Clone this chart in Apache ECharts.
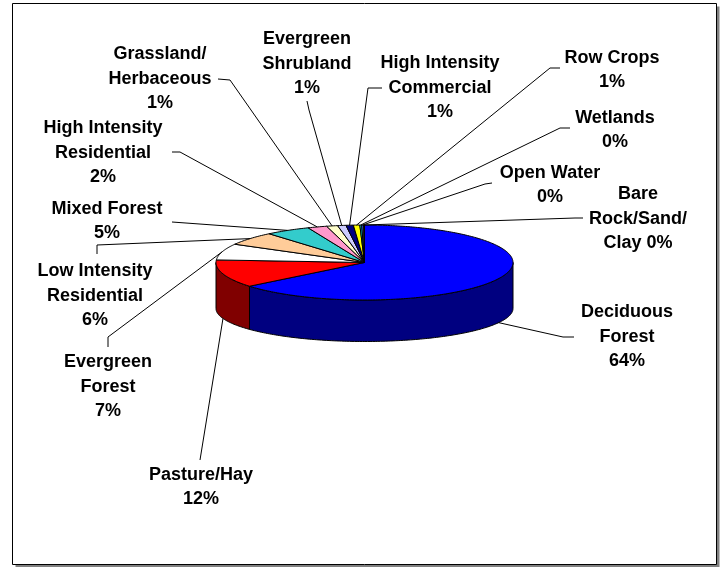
<!DOCTYPE html>
<html>
<head>
<meta charset="utf-8">
<script src="https://cdn.jsdelivr.net/npm/echarts@6/dist/echarts.min.js"></script>
<style>
html, body { margin: 0; padding: 0; background: #fff; }
#main { width: 725px; height: 567px; }
</style>
</head>
<body>
<div id="main"></div>
<script>
// land cover shares, clockwise from 12 o'clock
var categories = ['Deciduous Forest', 'Pasture/Hay', 'Evergreen Forest', 'Low Intensity Residential', 'Mixed Forest',
    'High Intensity Residential', 'Grassland/Herbaceous', 'Evergreen Shrubland', 'High Intensity Commercial',
    'Row Crops', 'Wetlands', 'Open Water', 'Bare Rock/Sand/Clay'];
var values = [64.1, 12.0, 7.0, 5.8, 4.9, 2.1, 1.2, 0.9, 0.8, 0.7, 0.2, 0.2, 0.1];
// label text as it wraps in the picture, {p} = percent
var labelNames = ['Deciduous\nForest\n{p}', 'Pasture/Hay\n{p}', 'Evergreen\nForest\n{p}', 'Low Intensity\nResidential\n{p}',
    'Mixed Forest\n{p}', 'High Intensity\nResidential\n{p}', 'Grassland/\nHerbaceous\n{p}', 'Evergreen\nShrubland\n{p}',
    'High Intensity\nCommercial\n{p}', 'Row Crops\n{p}', 'Wetlands\n{p}', 'Open Water\n{p}', 'Bare\nRock/Sand/\nClay {p}'];

var colors = ['#0000ff', '#ff0000', '#ffffff', '#ffcc99', '#33cccc', '#ff99cc', '#ffffcc', '#ccccff', '#000080',
    '#ffff00', '#00ffff', '#3366ff', '#c0c0c0'];

// label placement (text centre, leader start, leader elbow)
var labelCenter = [[627, 337], [201, 487], [108, 387], [95, 296], [107, 221], [103, 153], [160, 79], [307, 64],
    [440, 88], [612, 70], [615, 130], [550, 185], [638, 219]];
var leaderStart = [[574, 337], [200, 460], [108, 347], [97, 254], [172, 222], [172, 152], [218, 79], [307, 101],
    [382, 88], [560, 68], [570, 128], [492, 183], [583, 218]];
var leaderElbow = [[563, 337], [200, 460], [108, 337], [97, 245], [172, 222], [180, 152], [230, 80], [309, 110],
    [368, 88], [550, 68], [560, 128], [485, 184], [575, 218]];

// pie shape
var CX = 364.5, CY = 262.5, RX = 148.5, RY = 37.5, DEPTH = 46, RYB = 33;

var total = 0;
values.forEach(function (v) { total += v; });
var startAngle = [];
var acc = 0;
values.forEach(function (v) { startAngle.push(acc / total * 360); acc += v; });

function darker(c) {
    var r = parseInt(c.substr(1, 2), 16), g = parseInt(c.substr(3, 2), 16), b = parseInt(c.substr(5, 2), 16);
    return 'rgb(' + Math.round(r / 2) + ',' + Math.round(g / 2) + ',' + Math.round(b / 2) + ')';
}
function pt(t, top) {
    var a = t * Math.PI / 180;
    if (top) return [CX + RX * Math.sin(a), CY - RY * Math.cos(a)];
    return [CX + RX * Math.sin(a), CY + DEPTH - RYB * Math.cos(a)];
}
function arc(t0, t1, top) {
    var pts = [];
    var n = Math.max(1, Math.ceil((t1 - t0) / 1));
    for (var k = 0; k <= n; k++) pts.push(pt(t0 + (t1 - t0) * k / n, top));
    return pts;
}

var chart = echarts.init(document.getElementById('main'));

option = {
    animation: false,
    graphic: [
        { type: 'rect', z: -2, silent: true, shape: { x: 15.5, y: 6.5, width: 704, height: 561 }, style: { fill: '#808080' } },
        { type: 'rect', z: -1, silent: true, shape: { x: 12.5, y: 3.5, width: 704, height: 561 }, style: { fill: '#fff', stroke: '#000', lineWidth: 1 } }
    ],
    series: [
        {
            type: 'custom',
            coordinateSystem: 'none',
            silent: true,
            data: values.map(function (v) { return [v]; }),
            renderItem: function (params, api) {
                var i = params.dataIndex;
                var t0 = startAngle[i];
                var t1 = t0 + api.value(0) / total * 360;
                var children = [];
                // front wall
                var a0 = Math.max(t0, 90), a1 = Math.min(t1, 270);
                if (a1 > a0) {
                    var side = arc(a0, a1, true).concat(arc(a0, a1, false).reverse());
                    children.push({
                        type: 'polygon', shape: { points: side },
                        style: { fill: darker(colors[i]), stroke: '#000', lineWidth: 1 }
                    });
                }
                // top face
                children.push({
                    type: 'polygon', shape: { points: [[CX, CY]].concat(arc(t0, t1, true)) },
                    style: { fill: colors[i], stroke: '#000', lineWidth: 1 }
                });
                return { type: 'group', children: children };
            }
        },
        {
            type: 'custom',
            coordinateSystem: 'none',
            silent: true,
            z: 5,
            data: values.map(function (v) { return [v]; }),
            renderItem: function (params, api) {
                var i = params.dataIndex;
                var t0 = startAngle[i];
                var mid = t0 + api.value(0) / total * 360 / 2;
                var onTop = Math.cos(mid * Math.PI / 180) >= 0;
                var end = pt(mid, onTop);
                var pct = Math.round(api.value(0) / total * 100) + '%';
                return {
                    type: 'group',
                    children: [
                        {
                            type: 'polyline',
                            shape: { points: [leaderStart[i], leaderElbow[i], end] },
                            style: { stroke: '#000', lineWidth: 1, fill: null }
                        },
                        {
                            type: 'text',
                            style: {
                                text: labelNames[i].replace('{p}', pct),
                                x: labelCenter[i][0],
                                y: labelCenter[i][1],
                                align: 'center',
                                verticalAlign: 'middle',
                                lineHeight: 24.5,
                                fontFamily: 'Liberation Sans',
                                fontWeight: 'bold',
                                fontSize: 18,
                                fill: '#000'
                            }
                        }
                    ]
                };
            }
        }
    ]
};

chart.setOption(option);
</script>
</body>
</html>
